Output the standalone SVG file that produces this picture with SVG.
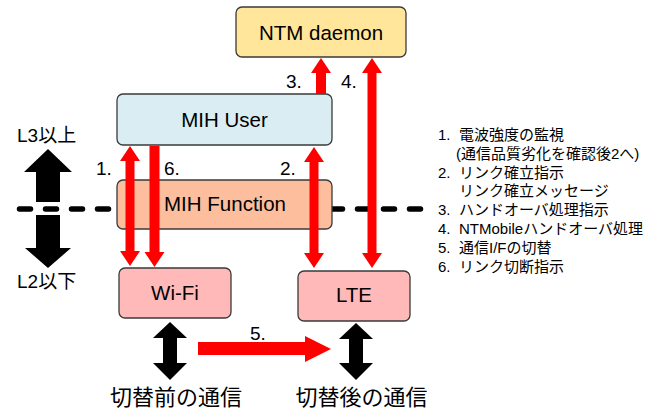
<svg xmlns="http://www.w3.org/2000/svg" width="660" height="410" viewBox="0 0 660 410">
<style>
.box{stroke:#3a3a3a;stroke-width:1.3}
.lbl{font-family:"Liberation Sans","Noto Sans CJK JP",sans-serif;fill:#000}
.node{font-size:20.5px;text-anchor:middle}
.num{font-size:19px}
.leg{font-size:15px}
.jp{font-family:"Noto Sans CJK JP",sans-serif;fill:#000}
.red{fill:#ff0000}
.blk{fill:#000}
</style>
<rect width="660" height="410" fill="#fff"/>
<line x1="19.5" y1="209" x2="420.5" y2="209" stroke="#000" stroke-width="5.5" stroke-dasharray="11 15" stroke-linecap="round"/>
<g id="ntm">
<rect class="box" x="236" y="7" width="170" height="50" rx="6" fill="#ffe69b"/>
<text class="lbl node" x="321" y="40">NTM daemon</text>
</g>
<g id="mihuser">
<rect class="box" x="117" y="94" width="215" height="51" rx="6" fill="#daedf3"/>
<text class="lbl node" x="224.5" y="127">MIH User</text>
</g>
<g id="mihfunction">
<rect class="box" x="117" y="180" width="215" height="49" rx="6" fill="#fcbe9c"/>
<text class="lbl node" x="225" y="211">MIH Function</text>
</g>
<g id="wifi">
<rect class="box" x="119" y="268" width="112" height="50" rx="6" fill="#ffb9b9"/>
<text class="lbl node" x="175" y="300">Wi-Fi</text>
</g>
<g id="lte">
<rect class="box" x="298" y="271" width="112" height="50" rx="6" fill="#ffb9b9"/>
<text class="lbl node" x="354" y="302">LTE</text>
</g>
<g id="connectors">
<polygon class="red" points="130,146 140,161 134.5,161 134.5,251 140,251 130,266 120,251 125.5,251 125.5,161 120,161"/>
<polygon class="red" points="149.5,146 159.5,146 159.5,252 164.5,252 154.5,267 144.5,252 149.5,252"/>
<polygon class="red" points="314,147 324,162 318.5,162 318.5,253 324,253 314,268 304,253 309.5,253 309.5,162 304,162"/>
<polygon class="red" points="321,58 331,73 326,73 326,94 316,94 316,73 311,73"/>
<polygon class="red" points="372,58 382,73 376.5,73 376.5,253 382,253 372,268 362,253 367.5,253 367.5,73 362,73"/>
<polygon class="red" points="198,342 305,342 305,336 331,349 305,362 305,355 198,355"/>
<polygon class="blk" points="170,322 187,338 177,338 177,363 187,363 170,380 153,363 163,363 163,338 153,338"/>
<polygon class="blk" points="356,323 373,339 363,339 363,363 373,363 356,380 339,363 349,363 349,339 339,339"/>
<polygon class="blk" points="48,149 72,172 60,172 60,202 36,202 36,172 24,172"/>
<polygon class="blk" points="36,215 60,215 60,248 71,248 48,268 25,248 36,248"/>
<text class="lbl num" x="96" y="175">1.</text>
<text class="lbl num" x="164" y="175">6.</text>
<text class="lbl num" x="280" y="175">2.</text>
<text class="lbl num" x="286" y="88">3.</text>
<text class="lbl num" x="341" y="88">4.</text>
<text class="lbl num" x="250" y="340">5.</text>
</g>
<g id="layers">
<text class="lbl" x="17" y="142" font-size="19">L3以上</text>
<text class="lbl" x="17" y="288" font-size="19">L2以下</text>
</g>
<g id="bottom">
<text class="jp" x="176" y="405" font-size="22" text-anchor="middle">切替前の通信</text>
<text class="jp" x="361.5" y="405" font-size="22" text-anchor="middle">切替後の通信</text>
</g>
<g id="legend" class="lbl leg">
<text x="438" y="140">1.</text><text x="459" y="140">電波強度の監視</text>
<text x="456" y="159">(通信品質劣化を確認後2へ)</text>
<text x="438" y="177.5">2.</text><text x="459" y="177.5">リンク確立指示</text>
<text x="459" y="196">リンク確立メッセージ</text>
<text x="438" y="215">3.</text><text x="459" y="215">ハンドオーバ処理指示</text>
<text x="438" y="234">4.</text><text x="459" y="234">NTMobileハンドオーバ処理</text>
<text x="438" y="253">5.</text><text x="459" y="253">通信I/Fの切替</text>
<text x="438" y="272">6.</text><text x="459" y="272">リンク切断指示</text>
</g>
</svg>
